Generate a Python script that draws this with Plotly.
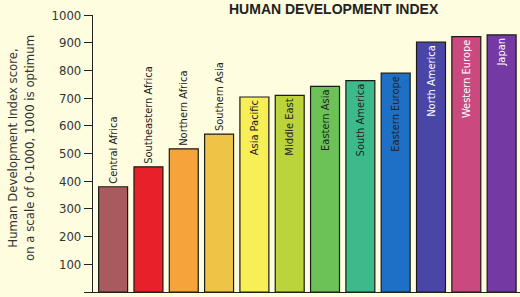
import plotly.graph_objects as go

regions = ["Central Africa", "Southeastern Africa", "Northern Africa", "Southern Asia",
           "Asia Pacific", "Middle East", "Eastern Asia", "South America",
           "Eastern Europe", "North America", "Western Europe", "Japan"]
hdi_scores = [380, 452, 517, 570, 704, 710, 742, 763, 790, 902, 922, 928]
bar_colors = ["#A85A5E", "#E8202A", "#F5A33B", "#EEC447", "#F7EF55", "#BCD43C",
              "#6CC256", "#3DBA8C", "#1E70C6", "#4A46A8", "#CA4A80", "#7439A2"]
label_colors = ["#222222"] * 9 + ["#FFFFFF"] * 3
label_positions = ["outside"] * 4 + ["inside"] * 8
y_ticks = [0, 100, 200, 300, 400, 500, 600, 700, 800, 900, 1000]

font_family = "DejaVu Sans Condensed, Liberation Sans Narrow, Arial Narrow, sans-serif"
bg = "#FFFDE0"

fig = go.Figure(go.Bar(
    x=list(range(len(regions))),
    y=hdi_scores,
    marker=dict(color=bar_colors, line=dict(color="#1a1a1a", width=1.2)),
    text=regions,
    textposition=label_positions,
    textangle=-90,
    insidetextanchor="end",
    constraintext="none",
    textfont=dict(family=font_family, size=11, color=label_colors),
    outsidetextfont=dict(family=font_family, size=11, color="#222222"),
    cliponaxis=False,
    width=0.82,
    hoverinfo="skip",
))

fig.update_layout(
    width=520, height=297,
    margin=dict(l=93, r=0, t=15, b=5, autoexpand=False),
    paper_bgcolor=bg,
    plot_bgcolor=bg,
    showlegend=False,
    xaxis=dict(range=[-0.57, 11.52], showticklabels=False, showgrid=False,
               zeroline=False, showline=True, linecolor="#222222", linewidth=1,
               ticks="", automargin=False),
    yaxis=dict(range=[0, 1000], tickvals=y_ticks, showgrid=False, zeroline=False,
               showline=True, linecolor="#222222", linewidth=1.2,
               ticks="outside", ticklen=8, tickcolor="#222222", tickwidth=1.2,
               tickfont=dict(family=font_family, size=13, color="#333333"),
               automargin=False),
    annotations=[
        dict(text="<b>HUMAN DEVELOPMENT INDEX</b>", xref="paper", yref="paper",
             x=(334 - 93) / 427, y=1 + 15 / 277, xanchor="center", yanchor="top",
             showarrow=False, borderpad=0,
             font=dict(family="Liberation Sans, Arial, sans-serif", size=14, color="#222222")),
        dict(text="Human Development Index score,<br>on a scale of 0-1000, 1000 is optimum",
             xref="paper", yref="paper", x=-(93 - 3) / 427, y=0.52,
             xanchor="left", yanchor="middle", textangle=-90, showarrow=False,
             font=dict(family=font_family, size=13, color="#333333")),
    ],
)

fig.write_html("out.html", config={"displayModeBar": False},
               post_script=f"document.body.style.margin='0';document.body.style.background='{bg}';")
